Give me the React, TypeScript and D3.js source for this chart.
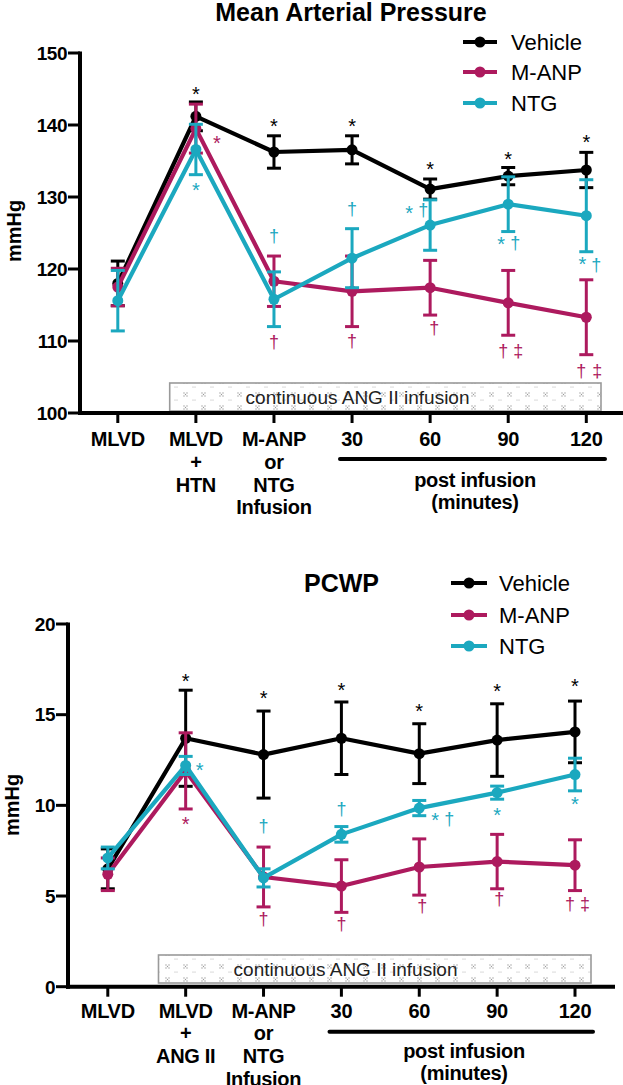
import React from "react";
import * as d3 from "d3";

const categories = ["MLVD", "MLVD + X", "Infusion", "30", "60", "90", "120"];
const mapTickLines = [["MLVD"], ["MLVD", "+", "HTN"], ["M-ANP", "or", "NTG", "Infusion"], ["30"], ["60"], ["90"], ["120"]];
const pcwpTickLines = [["MLVD"], ["MLVD", "+", "ANG II"], ["M-ANP", "or", "NTG", "Infusion"], ["30"], ["60"], ["90"], ["120"]];

const seriesNames = ["Vehicle", "M-ANP", "NTG"];
const seriesColors = ["#000000", "#AD1A5E", "#1BA8BF"];

const mapVehicle = [118.0, 141.2, 136.25, 136.55, 131.1, 132.9, 133.75];
const mapVehicleErr = [3.1, 2.0, 2.25, 1.95, 1.4, 1.2, 2.45];
const mapManp = [117.5, 139.5, 118.3, 116.9, 117.4, 115.3, 113.3];
const mapManpErr = [2.6, 3.4, 3.5, 4.9, 3.8, 4.5, 5.2];
const mapNtg = [115.6, 136.6, 115.8, 121.5, 126.1, 129.0, 127.4];
const mapNtgErr = [4.2, 3.5, 3.8, 4.1, 3.5, 3.8, 5.0];

const pcwpVehicle = [6.5, 13.7, 12.8, 13.7, 12.85, 13.6, 14.05];
const pcwpVehicleErr = [1.1, 2.65, 2.4, 2.0, 1.65, 2.0, 1.7];
const pcwpManp = [6.2, 11.9, 6.05, 5.55, 6.6, 6.9, 6.7];
const pcwpManpErr = [0.9, 2.1, 1.65, 1.45, 1.55, 1.5, 1.4];
const pcwpNtg = [7.1, 12.2, 6.0, 8.4, 9.85, 10.7, 11.7];
const pcwpNtgErr = [0.6, 0.5, 0.5, 0.43, 0.42, 0.36, 0.9];

const mapYTicks = [100, 110, 120, 130, 140, 150];
const pcwpYTicks = [0, 5, 10, 15, 20];

const boxText = "continuous ANG II infusion";
const postText = ["post infusion", "(minutes)"];

type Ann = { s: number; i: number; t: string; a: "top" | "bottom" | "point"; dx: number; dy: number };

const mapAnn: Ann[] = [
  { s: 0, i: 1, t: "*", a: "top", dx: 0, dy: -12 },
  { s: 0, i: 2, t: "*", a: "top", dx: 0, dy: -14 },
  { s: 0, i: 3, t: "*", a: "top", dx: 0, dy: -14 },
  { s: 0, i: 4, t: "*", a: "top", dx: 0, dy: -14 },
  { s: 0, i: 5, t: "*", a: "top", dx: 0, dy: -13 },
  { s: 0, i: 6, t: "*", a: "top", dx: 0, dy: -14.5 },
  { s: 1, i: 1, t: "*", a: "point", dx: 21, dy: 9.5 },
  { s: 2, i: 1, t: "*", a: "bottom", dx: 0, dy: 10.5 },
  { s: 2, i: 2, t: "†", a: "top", dx: 0, dy: -35 },
  { s: 2, i: 3, t: "†", a: "top", dx: 0, dy: -19 },
  { s: 2, i: 4, t: "*", a: "top", dx: -21, dy: 9 },
  { s: 2, i: 4, t: "†", a: "top", dx: -7, dy: 11.5 },
  { s: 2, i: 5, t: "*", a: "bottom", dx: -7, dy: 8.5 },
  { s: 2, i: 5, t: "†", a: "bottom", dx: 7, dy: 12.5 },
  { s: 2, i: 6, t: "*", a: "bottom", dx: -4, dy: 8.3 },
  { s: 2, i: 6, t: "†", a: "bottom", dx: 10, dy: 14 },
  { s: 1, i: 2, t: "†", a: "bottom", dx: 0, dy: 37 },
  { s: 1, i: 3, t: "†", a: "bottom", dx: 0, dy: 15 },
  { s: 1, i: 4, t: "†", a: "bottom", dx: 4, dy: 14 },
  { s: 1, i: 5, t: "†", a: "bottom", dx: -5, dy: 16.5 },
  { s: 1, i: 5, t: "‡", a: "bottom", dx: 10, dy: 16.5 },
  { s: 1, i: 6, t: "†", a: "bottom", dx: -5, dy: 17 },
  { s: 1, i: 6, t: "‡", a: "bottom", dx: 11, dy: 17 },
];

const pcwpAnn: Ann[] = [
  { s: 0, i: 1, t: "*", a: "top", dx: 0, dy: -14 },
  { s: 0, i: 2, t: "*", a: "top", dx: 0, dy: -17.5 },
  { s: 0, i: 3, t: "*", a: "top", dx: 0, dy: -16.5 },
  { s: 0, i: 4, t: "*", a: "top", dx: 0, dy: -17 },
  { s: 0, i: 5, t: "*", a: "top", dx: 0, dy: -17 },
  { s: 0, i: 6, t: "*", a: "top", dx: 0, dy: -19 },
  { s: 1, i: 1, t: "*", a: "bottom", dx: 0, dy: 11 },
  { s: 2, i: 1, t: "*", a: "point", dx: 14, dy: 0 },
  { s: 2, i: 2, t: "†", a: "top", dx: 0, dy: -42 },
  { s: 2, i: 3, t: "†", a: "top", dx: 0, dy: -16.6 },
  { s: 2, i: 4, t: "*", a: "point", dx: 16, dy: 8 },
  { s: 2, i: 4, t: "†", a: "point", dx: 30, dy: 12 },
  { s: 2, i: 5, t: "*", a: "bottom", dx: 0, dy: 11 },
  { s: 2, i: 6, t: "*", a: "bottom", dx: 0, dy: 9 },
  { s: 1, i: 2, t: "†", a: "bottom", dx: 0, dy: 13 },
  { s: 1, i: 3, t: "†", a: "bottom", dx: 0, dy: 12.6 },
  { s: 1, i: 4, t: "†", a: "bottom", dx: 3, dy: 12 },
  { s: 1, i: 5, t: "†", a: "bottom", dx: 2, dy: 11 },
  { s: 1, i: 6, t: "†", a: "bottom", dx: -5, dy: 14 },
  { s: 1, i: 6, t: "‡", a: "bottom", dx: 10, dy: 14 },
];

const FONT = "'Liberation Sans', Arial, Helvetica, sans-serif";

type Layout = {
  id: string;
  title: string;
  titleX: number;
  titleY: number;
  axisX: number;
  axisRight: number;
  yTop: number;
  yBottom: number;
  domain: [number, number];
  yTicks: number[];
  xFirst: number;
  xLast: number;
  tickLines: string[][];
  labelBase: number;
  lineH: number;
  legendX1: number;
  legendX2: number;
  legendTextX: number;
  legendYs: number[];
  boxX1: number;
  boxX2: number;
  boxY1: number;
  boxY2: number;
  boxTextX: number;
  boxTextY: number;
  underX1: number;
  underX2: number;
  underY: number;
  postX: number;
  postY: number[];
  mmX: number;
  mmY: number;
  series: number[][];
  errs: number[][];
  ann: Ann[];
};

function Chart({ L }: { L: Layout }) {
  const x = d3.scalePoint<string>().domain(categories).range([L.xFirst, L.xLast]);
  const y = d3.scaleLinear().domain(L.domain).range([L.yBottom, L.yTop]);
  const line = d3
    .line<number>()
    .x((_, i) => x(categories[i]) as number)
    .y((d) => y(d));
  const cap = 7;

  const glyphBase = (t: string, cy: number, fs: number) => (t === "*" ? cy + 0.57 * fs : cy + 0.28 * fs);

  return (
    <g>
      <defs>
        <pattern id={"dots" + L.id} width="18" height="13" patternUnits="userSpaceOnUse">
          <rect width="18" height="13" fill="#fff" />
          <circle cx="4" cy="3" r="0.65" fill="#999" />
          <circle cx="7" cy="3" r="0.65" fill="#999" />
          <circle cx="5.5" cy="4.5" r="0.65" fill="#999" />
          <circle cx="4" cy="6" r="0.65" fill="#999" />
          <circle cx="7" cy="6" r="0.65" fill="#999" />
          <circle cx="13" cy="10" r="0.55" fill="#aaa" />
          <circle cx="15" cy="10" r="0.55" fill="#aaa" />
        </pattern>
      </defs>
      <text x={L.titleX} y={L.titleY} textAnchor="middle" fontFamily={FONT} fontWeight="bold" fontSize={25}>
        {L.title}
      </text>

      {/* box */}
      <rect
        x={L.boxX1}
        y={L.boxY1}
        width={L.boxX2 - L.boxX1}
        height={L.boxY2 - L.boxY1}
        fill={`url(#dots${L.id})`}
        stroke="#9a9a9a"
        strokeWidth={1.6}
      />
      <text x={L.boxTextX} y={L.boxTextY} fontFamily={FONT} fontSize={19} fill="#222">
        {boxText}
      </text>

      {/* axes */}
      <line x1={L.axisX} x2={L.axisX} y1={L.yTop - 1.5} y2={L.yBottom + 2} stroke="#000" strokeWidth={4} />
      <line x1={L.axisX - 2} x2={L.axisRight} y1={L.yBottom} y2={L.yBottom} stroke="#000" strokeWidth={4} />
      {L.yTicks.map((t) => (
        <g key={t}>
          <line x1={L.axisX - 12} x2={L.axisX} y1={y(t)} y2={y(t)} stroke="#000" strokeWidth={3} />
          <text
            x={L.axisX - 13}
            y={y(t) + 6.8}
            textAnchor="end"
            fontFamily={FONT}
            fontWeight="bold"
            fontSize={19}
            letterSpacing={-0.5}
          >
            {t}
          </text>
        </g>
      ))}
      {categories.map((c, i) => (
        <g key={c}>
          <line
            x1={x(c) as number}
            x2={x(c) as number}
            y1={L.yBottom}
            y2={L.yBottom + 10}
            stroke="#000"
            strokeWidth={3}
          />
          {L.tickLines[i].map((s, k) => (
            <text
              key={k}
              x={x(c) as number}
              y={L.labelBase + k * L.lineH}
              textAnchor="middle"
              fontFamily={FONT}
              fontWeight="bold"
              fontSize={20}
              letterSpacing={-0.3}
            >
              {s}
            </text>
          ))}
        </g>
      ))}
      <line
        x1={L.underX1}
        x2={L.underX2}
        y1={L.underY}
        y2={L.underY}
        stroke="#000"
        strokeWidth={4}
        strokeLinecap="round"
      />
      {postText.map((s, k) => (
        <text
          key={k}
          x={L.postX}
          y={L.postY[k]}
          textAnchor="middle"
          fontFamily={FONT}
          fontWeight="bold"
          fontSize={20}
          letterSpacing={-0.3}
        >
          {s}
        </text>
      ))}
      <text
        transform={`translate(${L.mmX},${L.mmY}) rotate(-90)`}
        textAnchor="middle"
        fontFamily={FONT}
        fontWeight="bold"
        fontSize={20}
      >
        mmHg
      </text>

      {/* series */}
      {L.series.map((vals, s) => (
        <g key={s}>
          {vals.map((v, i) => {
            const cx = x(categories[i]) as number;
            const e = L.errs[s][i];
            return (
              <g key={i} stroke={seriesColors[s]} strokeWidth={3}>
                <line x1={cx} x2={cx} y1={y(v - e)} y2={y(v + e)} />
                <line x1={cx - cap} x2={cx + cap} y1={y(v + e)} y2={y(v + e)} />
                <line x1={cx - cap} x2={cx + cap} y1={y(v - e)} y2={y(v - e)} />
              </g>
            );
          })}
          <path d={line(vals) || ""} fill="none" stroke={seriesColors[s]} strokeWidth={4.2} strokeLinejoin="round" />
          {vals.map((v, i) => (
            <circle key={i} cx={x(categories[i]) as number} cy={y(v)} r={5.5} fill={seriesColors[s]} />
          ))}
        </g>
      ))}

      {/* annotations */}
      {L.ann.map((a, k) => {
        const v = L.series[a.s][a.i];
        const e = L.errs[a.s][a.i];
        const ay = a.a === "top" ? y(v + e) : a.a === "bottom" ? y(v - e) : y(v);
        const cx = (x(categories[a.i]) as number) + a.dx;
        const cy = ay + a.dy;
        const fs = a.t === "*" ? 20 : 18;
        return (
          <text
            key={k}
            x={cx}
            y={glyphBase(a.t, cy, fs)}
            textAnchor="middle"
            fontFamily={FONT}
            fontSize={fs}
            fill={seriesColors[a.s]}
          >
            {a.t}
          </text>
        );
      })}

      {/* legend */}
      {seriesNames.map((n, s) => (
        <g key={n}>
          <line
            x1={L.legendX1}
            x2={L.legendX2}
            y1={L.legendYs[s]}
            y2={L.legendYs[s]}
            stroke={seriesColors[s]}
            strokeWidth={4}
          />
          <circle cx={(L.legendX1 + L.legendX2) / 2} cy={L.legendYs[s]} r={5.5} fill={seriesColors[s]} />
          <text x={L.legendTextX} y={L.legendYs[s] + 8} fontFamily={FONT} fontSize={22}>
            {n}
          </text>
        </g>
      ))}
    </g>
  );
}

const mapLayout: Layout = {
  id: "a",
  title: "Mean Arterial Pressure",
  titleX: 351,
  titleY: 20.5,
  axisX: 80,
  axisRight: 623,
  yTop: 53,
  yBottom: 413,
  domain: [100, 150],
  yTicks: mapYTicks,
  xFirst: 117.8,
  xLast: 586.3,
  tickLines: mapTickLines,
  labelBase: 446,
  lineH: 22.8,
  legendX1: 463,
  legendX2: 497,
  legendTextX: 511,
  legendYs: [42, 72, 103],
  boxX1: 169.7,
  boxX2: 601,
  boxY1: 383,
  boxY2: 411,
  boxTextX: 245.6,
  boxTextY: 403.5,
  underX1: 340,
  underX2: 605,
  underY: 459,
  postX: 475,
  postY: [487, 509],
  mmX: 21,
  mmY: 231,
  series: [mapVehicle, mapManp, mapNtg],
  errs: [mapVehicleErr, mapManpErr, mapNtgErr],
  ann: mapAnn,
};

const pcwpLayout: Layout = {
  id: "b",
  title: "PCWP",
  titleX: 341.5,
  titleY: 592,
  axisX: 68,
  axisRight: 615,
  yTop: 624,
  yBottom: 986.7,
  domain: [0, 20],
  yTicks: pcwpYTicks,
  xFirst: 107.8,
  xLast: 575,
  tickLines: pcwpTickLines,
  labelBase: 1017.5,
  lineH: 22.8,
  legendX1: 451,
  legendX2: 487,
  legendTextX: 499,
  legendYs: [583, 615, 646],
  boxX1: 158.5,
  boxX2: 591,
  boxY1: 955,
  boxY2: 983,
  boxTextX: 233.6,
  boxTextY: 976,
  underX1: 329.5,
  underX2: 593,
  underY: 1031.7,
  postX: 464,
  postY: [1058, 1080],
  mmX: 19,
  mmY: 805,
  series: [pcwpVehicle, pcwpManp, pcwpNtg],
  errs: [pcwpVehicleErr, pcwpManpErr, pcwpNtgErr],
  ann: pcwpAnn,
};

export default function App() {
  return (
    <svg
      width={623}
      height={1085}
      viewBox="0 0 623 1085"
      style={{ position: "absolute", left: 0, top: 0, background: "#fff" }}
    >
      <rect width={623} height={1085} fill="#fff" />
      <Chart L={mapLayout} />
      <Chart L={pcwpLayout} />
    </svg>
  );
}
